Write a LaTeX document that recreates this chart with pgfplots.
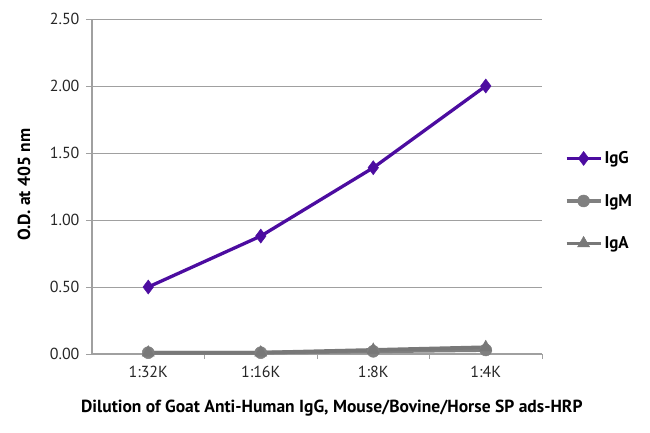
\documentclass[border=0pt]{standalone}
\usepackage{pgfplots}
\pgfplotsset{compat=1.18}
\usepackage{fontspec}
\setmainfont{PT Sans}
\definecolor{igg}{RGB}{76,12,160}
\definecolor{igm}{RGB}{128,128,128}
\definecolor{iga}{RGB}{120,120,120}
\definecolor{gridc}{RGB}{160,160,160}
\begin{document}
\begin{tikzpicture}[x=1pt,y=1pt]
\path (-92,-78) rectangle (558,354);
\begin{axis}[
  at={(0,0)}, anchor=south west,
  scale only axis, width=450pt, height=335pt,
  xmin=-0.5, xmax=3.5, ymin=0, ymax=2.5,
  axis x line*=bottom, axis y line*=left,
  axis line style={gridc, line width=1.2pt, -},
  xtick={0,1,2,3},
  xticklabels={1:32K,1:16K,1:8K,1:4K},
  major x tick style={draw=none},
  minor xtick={0.5,1.5,2.5,3.5},
  minor x tick style={gridc, line width=1pt},
  minor tick length=5pt,
  ytick={0,0.5,1,1.5,2,2.5},
  yticklabel={\pgfmathprintnumber[fixed,fixed zerofill,precision=2]{\tick}},
  y tick style={gridc, line width=1pt},
  major tick length=6pt,
  tick align=outside,
  ymajorgrids, grid style={gridc, line width=1pt},
  /pgf/number format/assume math mode=true,
  ticklabel style={font=\fontsize{16}{18}\selectfont, text=black!85},
  xticklabel style={yshift=-3pt},
  yticklabel style={xshift=-3pt},
  xlabel={Dilution of Goat Anti-Human IgG, Mouse/Bovine/Horse SP ads-HRP},
  ylabel={O.D. at 405 nm},
  xlabel style={font=\bfseries\fontsize{17.5}{20}\selectfont, at={(axis description cs:0.533,-0.162)}, anchor=center},
  ylabel style={font=\bfseries\fontsize{17.5}{20}\selectfont, at={(axis description cs:-0.151,0.505)}, anchor=center},
  legend style={draw=none, fill=none, at={(axis description cs:1.05,0.457)}, anchor=west,
    font=\bfseries\fontsize{17}{20}\selectfont, row sep=25pt, inner sep=0pt},
  legend cell align=left,
  legend image code/.code={\draw[#1, mark repeat=2, mark phase=2] plot coordinates {(0pt,0pt) (17pt,0pt) (34pt,0pt)};},
  clip=false,
]
\addplot[igg, line width=3.3pt, mark=diamond*, mark size=7pt, mark options={fill=igg, draw=igg, line width=0.5pt}] coordinates {(0,0.50) (1,0.88) (2,1.39) (3,2.00)};
\addplot[igm, line width=3.8pt, mark=*, mark size=6pt, mark options={fill=igm, draw=igm, line width=0.5pt}] coordinates {(0,0.01) (1,0.01) (2,0.02) (3,0.03)};
\addplot[iga, line width=3.8pt, mark=triangle*, mark size=7pt, mark options={fill=iga, draw=iga, line width=0.5pt}] coordinates {(0,0.01) (1,0.01) (2,0.03) (3,0.05)};
\legend{IgG,IgM,IgA}
\end{axis}
\end{tikzpicture}
\end{document}
